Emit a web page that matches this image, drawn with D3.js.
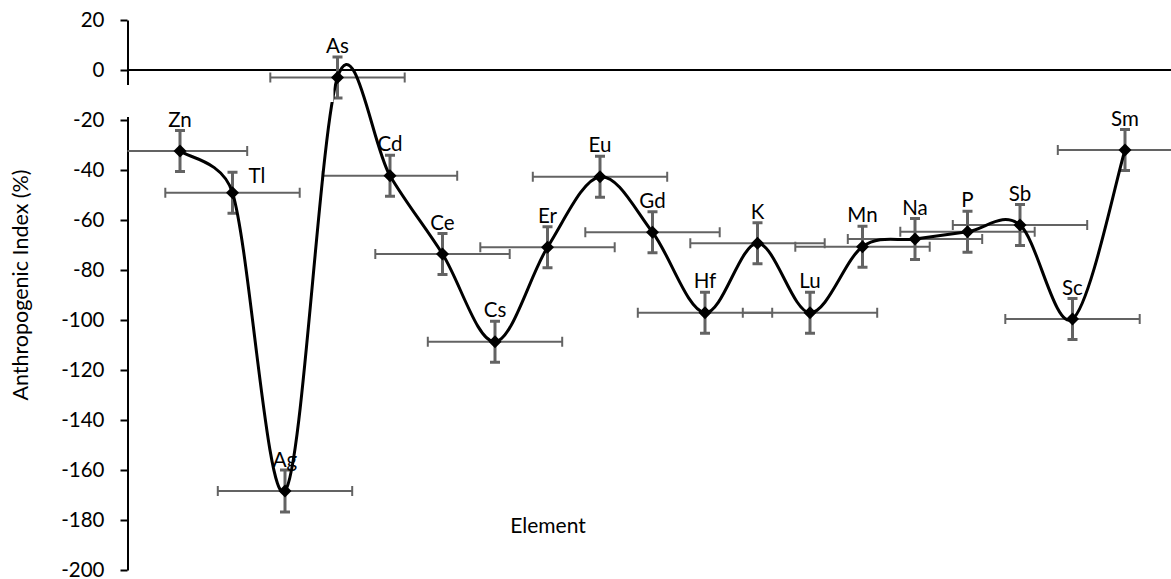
<!DOCTYPE html>
<html>
<head>
<meta charset="utf-8">
<script src="https://cdn.jsdelivr.net/npm/d3@7"></script>
<style>
  html, body { margin: 0; padding: 0; background: #fff; }
  svg { display: block; }
  text { font-family: Lato, "Open Sans", sans-serif; fill: #000; }
</style>
</head>
<body>
<svg id="chart" width="1171" height="579"></svg>
<script>
// Elements along the horizontal axis, in plotting order
const elements = ["Zn", "Tl", "Ag", "As", "Cd", "Ce", "Cs", "Er", "Eu", "Gd",
                  "Hf", "K", "Lu", "Mn", "Na", "P", "Sb", "Sc", "Sm"];
// Anthropogenic index (%) of each element
const anthropogenicIndex = [-32.4, -49.1, -168.4, -3.0, -42.3, -73.6, -108.7, -70.9, -42.7, -64.9,
                            -97.1, -69.3, -97.1, -70.7, -67.6, -64.7, -62.0, -99.6, -32.0];
// Error bar half-widths (index units vertically, element slots horizontally)
const yErrors = [8.2, 8.2, 8.4, 8.2, 8.2, 8.2, 8.2, 8.2, 8.2, 8.2,
                 8.2, 8.2, 8.2, 8.2, 8.2, 8.2, 8.2, 8.2, 8.2];
const xErrors = [1.28, 1.28, 1.28, 1.28, 1.28, 1.28, 1.28, 1.28, 1.28, 1.28,
                 1.28, 1.28, 1.28, 1.28, 1.28, 1.28, 1.28, 1.28, 1.28];
// Y-axis tick labels
const yTicks = [20, 0, -20, -40, -60, -80, -100, -120, -140, -160, -180, -200];

const W = 1171, H = 579;
const svg = d3.select("#chart");

const x = d3.scaleLinear().domain([0, 20]).range([127.5, 1177.5]);
const y = d3.scaleLinear().domain([-200, 20]).range([570, 20]);

const points = elements.map((el, i) => ({
  el, pos: i + 1, v: anthropogenicIndex[i], ey: yErrors[i], ex: xErrors[i]
}));

// clip marks to the plotting region (right of the value axis)
svg.append("defs").append("clipPath").attr("id", "plotClip")
  .append("rect").attr("x", x(0)).attr("y", 0).attr("width", W).attr("height", H);

// value axis
const yAxis = d3.axisLeft(y).tickValues(yTicks).tickSize(7).tickSizeOuter(0).tickPadding(16)
  .tickFormat(d => String(d));
const gy = svg.append("g").attr("transform", `translate(${x(0)},0)`).call(yAxis);
gy.select(".domain").attr("stroke", "#000").attr("stroke-width", 2);
gy.selectAll(".tick line").attr("stroke", "#000").attr("stroke-width", 2);
gy.selectAll(".tick text").attr("font-size", 20.5).attr("font-family", "Lato, sans-serif").attr("fill", "#000");

// horizontal axis line through zero
svg.append("line")
  .attr("x1", x(0)).attr("x2", x(20))
  .attr("y1", y(0)).attr("y2", y(0))
  .attr("stroke", "#000").attr("stroke-width", 2);

const plot = svg.append("g").attr("clip-path", "url(#plotClip)");

// horizontal error bars
const errColor = "#636363";
const hx = plot.append("g").attr("stroke", errColor).attr("stroke-width", 2).attr("fill", "none");
points.forEach(p => {
  const yy = y(p.v), x1 = x(p.pos - p.ex), x2 = x(p.pos + p.ex);
  hx.append("line").attr("x1", x1).attr("x2", x2).attr("y1", yy).attr("y2", yy);
  hx.append("line").attr("x1", x1).attr("x2", x1).attr("y1", yy - 5).attr("y2", yy + 5);
  hx.append("line").attr("x1", x2).attr("x2", x2).attr("y1", yy - 5).attr("y2", yy + 5);
});

// vertical error bars
const vy = plot.append("g").attr("stroke", errColor).attr("stroke-width", 3).attr("fill", "none");
points.forEach(p => {
  const xx = x(p.pos), y1 = y(p.v + p.ey), y2 = y(p.v - p.ey);
  vy.append("line").attr("x1", xx).attr("x2", xx).attr("y1", y1).attr("y2", y2);
  vy.append("line").attr("x1", xx - 5).attr("x2", xx + 5).attr("y1", y1).attr("y2", y1);
  vy.append("line").attr("x1", xx - 5).attr("x2", xx + 5).attr("y1", y2).attr("y2", y2);
});

// smoothed series line: cubic Bezier segments with tangents (next - prev) / 6,
// each control arm capped at half the length of its segment
function smoothPath(pts) {
  const p = d3.path();
  const n = pts.length;
  p.moveTo(pts[0][0], pts[0][1]);
  for (let i = 0; i < n - 1; i++) {
    const p0 = pts[Math.max(i - 1, 0)], p1 = pts[i], p2 = pts[i + 1], p3 = pts[Math.min(i + 2, n - 1)];
    const seg = Math.hypot(p2[0] - p1[0], p2[1] - p1[1]);
    let t1 = [(p2[0] - p0[0]) / 6, (p2[1] - p0[1]) / 6];
    let t2 = [(p3[0] - p1[0]) / 6, (p3[1] - p1[1]) / 6];
    const l1 = Math.hypot(t1[0], t1[1]), l2 = Math.hypot(t2[0], t2[1]);
    if (l1 > seg / 2) t1 = t1.map(v => v * (seg / 2) / l1);
    if (l2 > seg / 2) t2 = t2.map(v => v * (seg / 2) / l2);
    p.bezierCurveTo(p1[0] + t1[0], p1[1] + t1[1], p2[0] - t2[0], p2[1] - t2[1], p2[0], p2[1]);
  }
  return p.toString();
}
plot.append("path")
  .attr("d", smoothPath(points.map(d => [x(d.pos), y(d.v)])))
  .attr("fill", "none")
  .attr("stroke", "#000")
  .attr("stroke-width", 3)
  .attr("stroke-linejoin", "round");

// white band just under the zero line on the left side
svg.append("rect").attr("x", x(0) - 6).attr("y", 85).attr("width", x(4) - 4 - (x(0) - 6)).attr("height", 17)
  .attr("fill", "#fff");
svg.append("rect").attr("x", x(0) - 6).attr("y", 85).attr("width", 10).attr("height", 32)
  .attr("fill", "#fff");

// diamond markers
plot.append("g").selectAll("path").data(points).join("path")
  .attr("transform", d => `translate(${x(d.pos)},${y(d.v)})`)
  .attr("d", "M0,-6.5L6.5,0L0,6.5L-6.5,0Z")
  .attr("fill", "#000");

// element labels above each point (Tl sits to the right)
const labelPlacement = { Tl: { anchor: "start", dx: 16, dy: -10 } };
svg.append("g").selectAll("text").data(points).join("text")
  .attr("x", d => x(d.pos) + (labelPlacement[d.el] ? labelPlacement[d.el].dx : 0))
  .attr("y", d => y(d.v) + (labelPlacement[d.el] ? labelPlacement[d.el].dy : -24.5))
  .attr("text-anchor", d => labelPlacement[d.el] ? labelPlacement[d.el].anchor : "middle")
  .attr("font-size", 20.5)
  .text(d => d.el);

// axis titles
svg.append("text")
  .attr("x", 548).attr("y", 533)
  .attr("text-anchor", "middle").attr("font-size", 21)
  .text("Element");
svg.append("text")
  .attr("transform", "translate(28,285) rotate(-90)")
  .attr("text-anchor", "middle").attr("font-size", 21.5)
  .text("Anthropogenic Index (%)");
</script>
</body>
</html>
